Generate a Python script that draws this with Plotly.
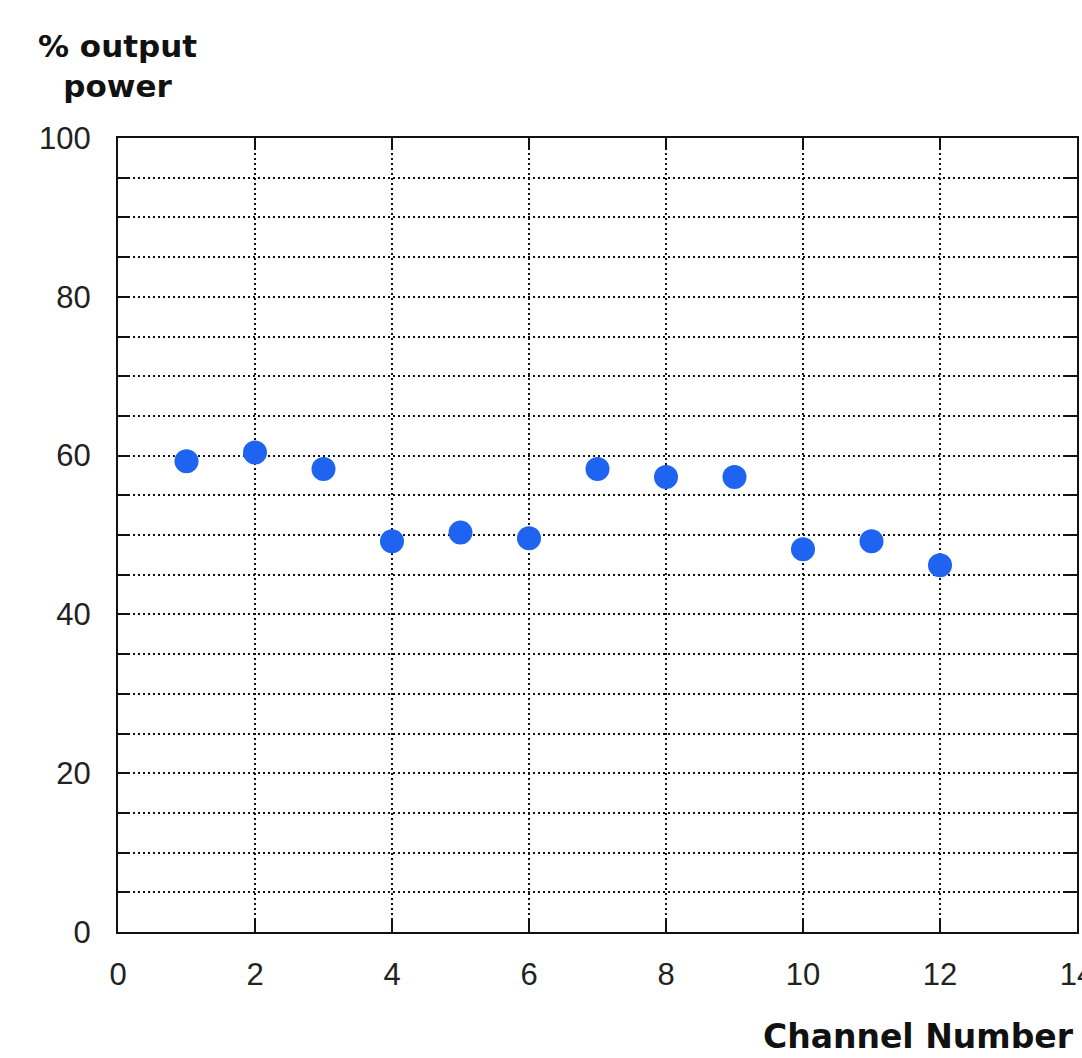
import plotly.graph_objects as go

# Relative output power measured on each channel
channels = [1, 2, 3, 4, 5, 6, 7, 8, 9, 10, 11, 12]
output_power = [59.3, 60.4, 58.3, 49.2, 50.3, 49.6, 58.3, 57.3, 57.3, 48.2, 49.2, 46.2]

x_ticks = [0, 2, 4, 6, 8, 10, 12, 14]
y_ticks = [0, 20, 40, 60, 80, 100]

FONT = "Liberation Sans, Arial, sans-serif"
BOLD_FONT = "DejaVu Sans, Verdana, sans-serif"
W, H = 1082, 1058
L, R, T, B = 118, 5, 138, 126
plot_w = W - L - R
plot_h = H - T - B

fig = go.Figure(
    go.Scatter(
        x=channels,
        y=output_power,
        mode="markers",
        marker=dict(size=24, color="#1e64f0", line=dict(width=0)),
        hoverinfo="x+y",
    )
)

grid_style = dict(gridcolor="#111111", gridwidth=2, griddash="2px,3px")

fig.update_xaxes(
    range=[0, 14],
    tickvals=x_ticks,
    ticktext=[str(v) for v in x_ticks],
    automargin=False,
    showgrid=True,
    **grid_style,
    zeroline=False,
    showline=True,
    linecolor="#111111",
    linewidth=2,
    mirror="ticks",
    ticks="inside",
    ticklen=12,
    tickwidth=2,
    tickcolor="#111111",
    ticklabelstandoff=14,
    ticklabeloverflow="allow",
    tickfont=dict(family=FONT, size=31, color="#222222"),
)

fig.update_yaxes(
    range=[0, 100],
    tickvals=y_ticks,
    ticktext=[str(v) for v in y_ticks],
    automargin=False,
    showgrid=True,
    **grid_style,
    minor=dict(
        dtick=5,
        showgrid=True,
        gridcolor="#111111",
        gridwidth=2,
        griddash="2px,3px",
        ticks="inside",
        ticklen=12,
        tickwidth=2,
        tickcolor="#111111",
    ),
    zeroline=False,
    showline=True,
    linecolor="#111111",
    linewidth=2,
    mirror="ticks",
    ticks="inside",
    ticklen=12,
    tickwidth=2,
    tickcolor="#111111",
    ticklabelstandoff=19,
    tickfont=dict(family=FONT, size=31, color="#222222"),
)

# Axis captions placed as free text above and below the plot area
fig.add_annotation(
    text="<b>% output</b><br><b>power</b>",
    xref="paper", yref="paper",
    x=(117 - L) / plot_w, y=(H - B - 26) / plot_h,
    xanchor="center", yanchor="top",
    showarrow=False, align="center",
    font=dict(family=BOLD_FONT, size=31, color="#111111"),
)
fig.add_annotation(
    text="<b>Channel Number</b>",
    xref="paper", yref="paper",
    x=(1076 - L) / plot_w, y=(H - B - 1036) / plot_h,
    xanchor="right", yanchor="middle",
    showarrow=False,
    font=dict(family=BOLD_FONT, size=33, color="#111111"),
)

fig.update_layout(
    width=W, height=H,
    margin=dict(l=L, r=R, t=T, b=B, pad=0, autoexpand=False),
    paper_bgcolor="white",
    plot_bgcolor="white",
    showlegend=False,
)

fig.write_html("out.html")
